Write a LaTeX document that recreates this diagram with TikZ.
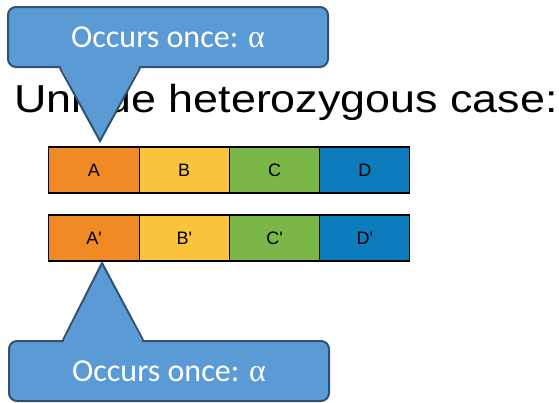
\documentclass[tikz,border=0pt]{standalone}
\usepackage{fontspec}
\setmainfont{Liberation Sans}
\newfontfamily\calloutfont{Carlito}
\newfontfamily\greekfont{Liberation Serif}
\usetikzlibrary{positioning}

\definecolor{segA}{HTML}{F08A24}
\definecolor{segB}{HTML}{FBC43C}
\definecolor{segC}{HTML}{7AB648}
\definecolor{segD}{HTML}{0D7CBD}
\definecolor{callfill}{HTML}{5B9BD5}
\definecolor{callline}{HTML}{2F5272}

\tikzset{
  seg/.style={draw=black,line width=1.2pt,minimum width=90.25pt,minimum height=46pt,
    inner sep=0pt,outer sep=0pt,font=\fontsize{18}{18}\selectfont},
  callbox/.style={draw=callline,fill=callfill,line width=2pt,rounded corners=8pt,
    minimum width=320pt,minimum height=60pt,text=white,
    font=\calloutfont\fontsize{32}{32}\selectfont},
  tail/.style={fill=callfill},
  tailline/.style={draw=callline,line width=2pt,line join=miter}
}

\begin{document}
\begin{tikzpicture}[x=1pt,y=-1pt]
\useasboundingbox (0,0) rectangle (559,402);

\node[anchor=base west,inner sep=0pt,xscale=1.15,font=\fontsize{39}{39}\selectfont] (title) at (14,112) {Unique heterozygous case:};

% first row
\node[seg,fill=segA] (a) at (94,170) {A};
\node[seg,fill=segB,right=0pt of a] (b) {B};
\node[seg,fill=segC,right=0pt of b] (c) {C};
\node[seg,fill=segD,right=0pt of c] (d) {D};
% second row
\node[seg,fill=segA,below=22pt of a] (a2) {A\textquotesingle};
\node[seg,fill=segB,right=0pt of a2] (b2) {B\textquotesingle};
\node[seg,fill=segC,right=0pt of b2] (c2) {C\textquotesingle};
\node[seg,fill=segD,right=0pt of c2] (d2) {D\textquotesingle};

% upper callout
\node[callbox] (top) at (168,37) {Occurs once: {\greekfont α}};
\coordinate (toptip) at ([xshift=6pt,yshift=6pt]a.north);
\fill[tail] ([xshift=-108pt,yshift=3pt]top.south) -- (toptip) -- ([xshift=-28pt,yshift=3pt]top.south) -- cycle;
\draw[tailline] ([xshift=-108pt]top.south) -- (toptip) -- ([xshift=-28pt]top.south);

% lower callout
\node[callbox] (bot) at (169,371) {Occurs once: {\greekfont α}};
\coordinate (bottip) at ([xshift=8pt,yshift=-2pt]a2.south);
\fill[tail] ([xshift=-106pt,yshift=-3pt]bot.north) -- (bottip) -- ([xshift=-26pt,yshift=-3pt]bot.north) -- cycle;
\draw[tailline] ([xshift=-106pt]bot.north) -- (bottip) -- ([xshift=-26pt]bot.north);
\end{tikzpicture}
\end{document}
